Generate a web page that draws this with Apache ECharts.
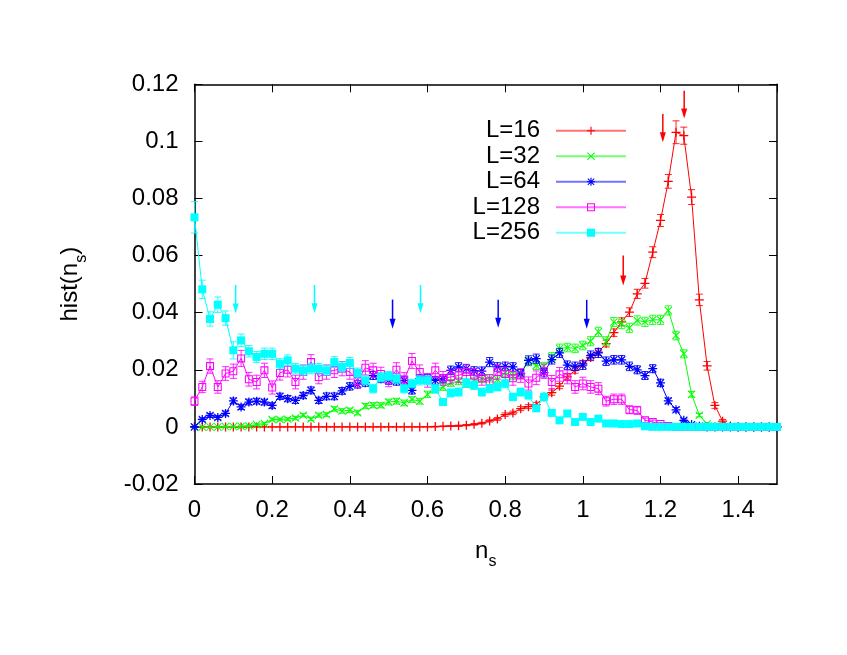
<!DOCTYPE html>
<html><head><meta charset="utf-8">
<script src="https://cdn.jsdelivr.net/npm/echarts@6/dist/echarts.min.js"></script>
<style>html,body{margin:0;padding:0;background:#fff}#c{width:847px;height:655px}</style>
</head><body><div id="c"></div>
<script>
// ---- data ----
const xValues = [0,0.02,0.04,0.06,0.08,0.1,0.12,0.14,0.16,0.18,0.2,0.22,0.24,0.26,0.28,0.3,0.32,0.34,0.36,0.38,0.4,0.42,0.44,0.46,0.48,0.5,0.52,0.54,0.56,0.58,0.6,0.62,0.64,0.66,0.68,0.7,0.72,0.74,0.76,0.78,0.8,0.82,0.84,0.86,0.88,0.9,0.92,0.94,0.96,0.98,1,1.02,1.04,1.06,1.08,1.1,1.12,1.14,1.16,1.18,1.2,1.22,1.24,1.26,1.28,1.3,1.32,1.34,1.36,1.38,1.4,1.42,1.44,1.46,1.48,1.5];

const seriesNames = ['L=16','L=32','L=64','L=128','L=256'];

const histL16 = [0,0,0,0,0,0,0,0,0,0,0,0,0,0,0,0,0,0,0,0,0,0,0,0,0,0,0,0,0,0,0,
  0.0001,0.0002,0.0003,0.0004,0.0006,0.0009,0.0013,0.0021,0.0028,0.0043,0.0049,0.0064,0.0071,0.0078,
  0.0105,0.0120,0.0143,0.0175,0.0198,0.0222,0.0243,0.0262,0.0292,0.0330,0.0368,0.0402,0.0466,0.0503,
  0.0612,0.0723,0.0860,0.1032,0.1020,0.0805,0.0445,0.0214,0.0075,0.0020,0.0003,0,0,0,0,0,0];
const errL16 = [0,0,0,0,0,0,0,0,0,0,0,0,0,0,0,0,0,0,0,0,0,0,0,0,0,0,0,0,0,0,0,
  0.0001,0.0001,0.0001,0.0002,0.0002,0.0003,0.0003,0.0004,0.0005,0.0006,0.0006,0.0007,0.0007,0.0008,
  0.0008,0.0009,0.0009,0.0010,0.0010,0.0011,0.0011,0.0012,0.0012,0.0013,0.0014,0.0015,0.0016,0.0017,
  0.0019,0.0021,0.0024,0.0040,0.0030,0.0026,0.0020,0.0015,0.0010,0.0006,0.0002,0,0,0,0,0,0];

const histL32 = [0,0,0,0,0.0001,0.0001,0.0002,0.0003,0.0008,0.0012,0.0026,0.0026,0.0027,0.0031,0.0041,0.0028,
  0.0041,0.0043,0.0063,0.0056,0.0058,0.0050,0.0073,0.0076,0.0076,0.0087,0.0090,0.0084,0.0096,0.0090,
  0.0114,0.0130,0.0140,0.0154,0.0160,0.0150,0.0160,0.0168,0.0170,0.0166,0.0190,0.0178,0.0190,0.0228,
  0.0215,0.0212,0.0245,0.0275,0.0278,0.0275,0.0285,0.0300,0.0333,0.0300,0.0367,0.0360,0.0347,0.0373,
  0.0368,0.0375,0.0375,0.0408,0.0320,0.0256,0.0114,0.0041,0.0010,0.0002,0,0,0,0,0,0,0,0];
const errL32 = [0,0,0,0.0001,0.0001,0.0001,0.0002,0.0002,0.0003,0.0004,0.0005,0.0005,0.0005,0.0006,0.0006,0.0006,
  0.0007,0.0007,0.0008,0.0008,0.0008,0.0008,0.0009,0.0009,0.0009,0.0010,0.0010,0.0010,0.0010,0.0010,
  0.0011,0.0011,0.0012,0.0012,0.0012,0.0012,0.0012,0.0013,0.0013,0.0013,0.0013,0.0013,0.0013,0.0014,
  0.0014,0.0014,0.0015,0.0015,0.0015,0.0015,0.0015,0.0016,0.0016,0.0016,0.0016,0.0016,0.0016,0.0016,
  0.0016,0.0016,0.0016,0.0016,0.0015,0.0014,0.0010,0.0006,0.0003,0.0001,0,0,0,0,0,0,0,0];

const histL64 = [0,0.0026,0.0040,0.0033,0.0047,0.0091,0.0070,0.0087,0.0090,0.0087,0.0075,0.0107,0.0099,0.0093,
  0.0110,0.0128,0.0093,0.0107,0.0107,0.0126,0.0142,0.0149,0.0155,0.0180,0.0169,0.0163,0.0160,0.0163,
  0.0128,0.0169,0.0170,0.0163,0.0169,0.0198,0.0210,0.0204,0.0196,0.0195,0.0227,0.0210,0.0212,0.0210,
  0.0186,0.0233,0.0239,0.0190,0.0236,0.0259,0.0216,0.0212,0.0216,0.0250,0.0259,0.0230,0.0235,0.0235,
  0.0212,0.0200,0.0180,0.0204,0.0154,0.0091,0.0060,0.0023,0.0008,0.0002,0,0,0,0,0,0,0,0,0,0];
const errL64 = [0.0002,0.0006,0.0007,0.0007,0.0008,0.0010,0.0009,0.0010,0.0010,0.0010,0.0010,0.0011,0.0011,0.0011,
  0.0011,0.0012,0.0011,0.0012,0.0012,0.0012,0.0013,0.0013,0.0013,0.0014,0.0014,0.0014,0.0014,0.0014,
  0.0013,0.0014,0.0014,0.0014,0.0014,0.0015,0.0015,0.0015,0.0015,0.0015,0.0016,0.0015,0.0015,0.0015,
  0.0015,0.0016,0.0016,0.0015,0.0016,0.0016,0.0015,0.0015,0.0015,0.0016,0.0016,0.0015,0.0015,0.0015,
  0.0015,0.0014,0.0014,0.0014,0.0013,0.0010,0.0008,0.0005,0.0003,0.0001,0,0,0,0,0,0,0,0,0,0];

const histL128 = [0.0090,0.0140,0.0213,0.0140,0.0187,0.0195,0.0240,0.0167,0.0157,0.0198,0.0138,0.0189,0.0200,
  0.0157,0.0192,0.0227,0.0175,0.0192,0.0198,0.0204,0.0192,0.0161,0.0207,0.0198,0.0185,0.0165,0.0200,
  0.0166,0.0231,0.0192,0.0163,0.0198,0.0170,0.0175,0.0180,0.0192,0.0180,0.0170,0.0160,0.0192,0.0185,
  0.0170,0.0180,0.0152,0.0172,0.0195,0.0157,0.0184,0.0175,0.0140,0.0152,0.0140,0.0134,0.0090,0.0097,
  0.0097,0.0060,0.0058,0.0023,0.0017,0.0010,0.0003,0,0,0,0,0,0,0,0,0,0,0,0,0,0];
const errL128 = [0.0015,0.0020,0.0025,0.0022,0.0024,0.0025,0.0028,0.0024,0.0024,0.0025,0.0023,0.0025,0.0025,
  0.0024,0.0025,0.0026,0.0024,0.0025,0.0025,0.0025,0.0025,0.0024,0.0025,0.0025,0.0024,0.0024,0.0025,
  0.0024,0.0026,0.0025,0.0024,0.0025,0.0024,0.0024,0.0024,0.0025,0.0024,0.0024,0.0023,0.0025,0.0024,
  0.0024,0.0024,0.0023,0.0024,0.0025,0.0023,0.0024,0.0024,0.0022,0.0022,0.0022,0.0021,0.0017,0.0018,
  0.0018,0.0014,0.0014,0.0008,0.0007,0.0005,0.0002,0,0,0,0,0,0,0,0,0,0,0,0,0,0];

const histL256 = [0.0734,0.0482,0.0378,0.0428,0.0381,0.0268,0.0303,0.0265,0.0245,0.0256,0.0256,0.0221,0.0233,
  0.0204,0.0198,0.0204,0.0204,0.0198,0.0227,0.0210,0.0224,0.0189,0.0163,0.0134,0.0174,0.0178,0.0169,
  0.0134,0.0152,0.0163,0.0163,0.0134,0.0087,0.0119,0.0122,0.0154,0.0146,0.0122,0.0134,0.0140,0.0152,
  0.0105,0.0122,0.0111,0.0065,0.0105,0.0049,0.0023,0.0047,0.0017,0.0035,0.0017,0.0029,0.0012,0.0012,
  0.0010,0.0010,0.0012,0.0002,0,0,0,0,0,0,0,0,0,0,0,0,0,0,0,0,0];
const errL256 = [0.0055,0.0032,0.0025,0.0027,0.0025,0.0030,0.0022,0.0020,0.0019,0.0020,0.0020,0.0018,0.0019,
  0.0018,0.0017,0.0018,0.0018,0.0017,0.0019,0.0018,0.0019,0.0017,0.0016,0.0015,0.0016,0.0016,0.0016,
  0.0015,0.0015,0.0016,0.0016,0.0015,0.0012,0.0014,0.0014,0.0015,0.0015,0.0014,0.0014,0.0014,0.0015,
  0.0013,0.0014,0.0013,0.0010,0.0013,0.0009,0.0006,0.0009,0.0005,0.0007,0.0005,0.0006,0.0004,0.0004,
  0.0004,0.0004,0.0004,0.0002,0,0,0,0,0,0,0,0,0,0,0,0,0,0,0,0,0];

// arrows marking special points (x, top y, bottom y, series they belong to)
const arrowX      = [1.261, 1.206, 1.104, 1.010, 0.782, 0.510, 0.582, 0.309, 0.106];
const arrowTop    = [0.1177, 0.1096, 0.0600, 0.0445, 0.0445, 0.0446, 0.0497, 0.0497, 0.0497];
const arrowBottom = [0.1080, 0.0997, 0.0495, 0.0344, 0.0347, 0.0344, 0.0398, 0.0398, 0.0397];
const arrowSeries = [0, 0, 0, 2, 2, 2, 4, 4, 4];

const yTickLabels = ['-0.02','0','0.02','0.04','0.06','0.08','0.1','0.12'];
const xTickLabels = ['0','0.2','0.4','0.6','0.8','1','1.2','1.4'];

// ---- styling ----
const colors = ['#ff0000','#00ff00','#0000ff','#ff00ff','#00ffff'];
const symPlus = 'path://M4.3,0H5.7V10H4.3ZM0,4.3H10V5.7H0Z';
const symX = 'path://M0,0.9L0.9,0L10,9.1L9.1,10ZM9.1,0L10,0.9L0.9,10L0,9.1Z';
const symStar = 'path://M4.3,0H5.7V10H4.3ZM0,4.3H10V5.7H0ZM0.6,1.5L1.5,0.6L9.4,8.5L8.5,9.4ZM8.5,0.6L9.4,1.5L1.5,9.4L0.6,8.5Z';
const symOpenSq = 'path://M0,0H10V10H0ZM1.3,1.3V8.7H8.7V1.3Z';
const symFillSq = 'rect';
const symbols = [symPlus, symX, symStar, symOpenSq, symFillSq];
const symSizes = [9, 8, 9, 8, 8];
const FONT = '"Liberation Sans", Arial, Helvetica, sans-serif';

const hists = [histL16, histL32, histL64, histL128, histL256];
const errs = [errL16, errL32, errL64, errL128, errL256];

function errRenderer(color) {
  return function (params, api) {
    const x = api.value(0), y = api.value(1), e = api.value(2);
    if (!(e > 0)) return null;
    const lo = api.coord([x, y - e]);
    const hi = api.coord([x, y + e]);
    const cap = 3.5;
    const st = { stroke: color, lineWidth: 1, opacity: 0.85 };
    return {
      type: 'group',
      children: [
        { type: 'line', shape: { x1: lo[0], y1: lo[1], x2: hi[0], y2: hi[1] }, style: st },
        { type: 'line', shape: { x1: lo[0] - cap, y1: lo[1], x2: lo[0] + cap, y2: lo[1] }, style: st },
        { type: 'line', shape: { x1: hi[0] - cap, y1: hi[1], x2: hi[0] + cap, y2: hi[1] }, style: st }
      ]
    };
  };
}

const series = [];
hists.forEach((h, k) => {
  series.push({
    type: 'custom',
    name: seriesNames[k] + ' err',
    renderItem: errRenderer(colors[k]),
    data: xValues.map((x, i) => [x, h[i], errs[k][i]]),
    z: 2 + k * 2,
    silent: true,
    animation: false
  });
  series.push({
    type: 'line',
    name: seriesNames[k],
    data: xValues.map((x, i) => [x, h[i]]),
    symbol: symbols[k],
    symbolSize: symSizes[k],
    showSymbol: true,
    showAllSymbol: true,
    lineStyle: { color: colors[k], width: 1 },
    itemStyle: { color: colors[k] },
    z: 3 + k * 2,
    animation: false,
    silent: true
  });
});

series.push({
  type: 'custom',
  name: 'arrows',
  data: arrowX.map((x, i) => [x, arrowTop[i], arrowBottom[i], arrowSeries[i]]),
  renderItem: function (params, api) {
    const top = api.coord([api.value(0), api.value(1)]);
    const bot = api.coord([api.value(0), api.value(2)]);
    const c = colors[api.value(3)];
    const hl = 10, hw = 3;
    return {
      type: 'group',
      children: [
        { type: 'line', shape: { x1: top[0], y1: top[1], x2: bot[0], y2: bot[1] - hl + 2 }, style: { stroke: c, lineWidth: 1.5 } },
        { type: 'polygon', shape: { points: [[bot[0] - hw, bot[1] - hl], [bot[0] + hw, bot[1] - hl], [bot[0], bot[1]]] }, style: { fill: c } }
      ]
    };
  },
  z: 20,
  silent: true,
  animation: false
});

const axisLineStyle = { color: '#000', width: 1.5 };
const tickStyle = { color: '#000', width: 1 };

const option = {
  animation: false,
  backgroundColor: '#fff',
  textStyle: { fontFamily: FONT },
  grid: { left: 194.5, right: 70, top: 84.3, bottom: 171, containLabel: false },
  legend: {
    orient: 'vertical',
    right: 215,
    top: 113,
    align: 'right',
    itemWidth: 70,
    itemHeight: 10,
    itemGap: 0,
    selectedMode: false,
    data: seriesNames,
    lineStyle: { width: 2, opacity: 0.55 },
    textStyle: { fontSize: 24, color: '#000', fontFamily: FONT, lineHeight: 25.5, width: 70, align: 'right', padding: [0, 11, 0, 0] }
  },
  xAxis: [{
    type: 'value', min: 0, max: 1.5, interval: 0.2, position: 'bottom',
    axisLine: { show: true, onZero: false, lineStyle: axisLineStyle },
    axisTick: { show: true, inside: true, length: 8, lineStyle: tickStyle },
    axisLabel: { fontSize: 24, color: '#000', margin: 14, fontFamily: FONT, showMaxLabel: false,
      formatter: v => xTickLabels[Math.round(v / 0.2)] || '' },
    splitLine: { show: false },
    name: '{n|n}{s|s}', nameLocation: 'middle', nameGap: 48,
    nameTextStyle: { color: '#000', fontFamily: FONT, rich: {
      n: { fontSize: 24, lineHeight: 38, fontFamily: FONT, color: '#000' },
      s: { fontSize: 16, lineHeight: 16, verticalAlign: 'bottom', fontFamily: FONT, color: '#000' } } }
  }, {
    type: 'value', min: 0, max: 1.5, interval: 0.2, position: 'top',
    axisLine: { show: true, onZero: false, lineStyle: axisLineStyle },
    axisTick: { show: true, inside: true, length: 8, lineStyle: tickStyle },
    axisLabel: { show: false }, splitLine: { show: false }
  }],
  yAxis: [{
    type: 'value', min: -0.02, max: 0.12, interval: 0.02, position: 'left',
    axisLine: { show: true, onZero: false, lineStyle: axisLineStyle },
    axisTick: { show: true, inside: true, length: 8, lineStyle: tickStyle },
    axisLabel: { fontSize: 24, color: '#000', margin: 16, fontFamily: FONT,
      formatter: v => yTickLabels[Math.round((v + 0.02) / 0.02)] || '' },
    splitLine: { show: false },
    name: '{n|hist(n}{s|s}{n|)}', nameLocation: 'middle', nameGap: 105,
    nameTextStyle: { color: '#000', fontFamily: FONT, rich: {
      n: { fontSize: 24, lineHeight: 38, fontFamily: FONT, color: '#000' },
      s: { fontSize: 16, lineHeight: 16, verticalAlign: 'bottom', fontFamily: FONT, color: '#000' } } }
  }, {
    type: 'value', min: -0.02, max: 0.12, interval: 0.02, position: 'right',
    axisLine: { show: true, onZero: false, lineStyle: axisLineStyle },
    axisTick: { show: true, inside: true, length: 8, lineStyle: tickStyle },
    axisLabel: { show: false }, splitLine: { show: false }
  }],
  series: series
};

const chart = echarts.init(document.getElementById('c'), null, { renderer: 'canvas' });
chart.setOption(option);
</script>
</body></html>
